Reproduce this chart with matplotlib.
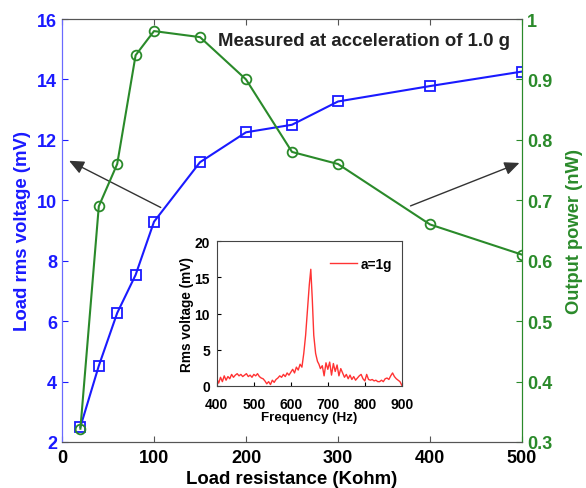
import matplotlib
matplotlib.use("Agg")
import matplotlib.pyplot as plt

plt.rcParams['font.family'] = ['Liberation Sans', 'DejaVu Sans']
plt.rcParams['font.weight'] = 'bold'

# Main data
resistance = [20, 40, 60, 80, 100, 150, 200, 250, 300, 400, 500]
voltage = [2.5, 4.52, 6.27, 7.53, 9.29, 11.26, 12.25, 12.5, 13.27, 13.78, 14.26]
power = [0.322, 0.69, 0.76, 0.94, 0.98, 0.97, 0.90, 0.78, 0.76, 0.66, 0.61]

# Inset spectrum
freq = [400, 405, 410, 415, 420, 425, 430, 435, 440, 445, 450, 455, 460, 465, 470,
        475, 480, 485, 490, 495, 500, 505, 510, 515, 520, 525, 530, 535, 540, 545,
        550, 555, 560, 565, 570, 575, 580, 585, 590, 595, 600, 605, 610, 615, 620,
        625, 630, 635, 640, 645, 650, 654, 658, 662, 667, 672, 676, 680, 685, 690,
        695, 700, 705, 710, 715, 720, 725, 730, 735, 740, 745, 750, 755, 760, 765,
        770, 775, 780, 785, 790, 795, 800, 805, 810, 815, 820, 825, 830, 835, 840,
        845, 850, 855, 860, 865, 870, 875, 880, 885, 890, 895, 900]
rms = [1.0, 0.4, 1.2, 0.6, 1.4, 0.8, 1.3, 1.0, 1.6, 1.2, 1.5, 1.7, 1.4, 1.6, 1.3,
       1.5, 1.7, 1.3, 1.5, 1.2, 1.6, 1.4, 1.7, 1.3, 1.1, 1.0, 0.7, 0.3, 0.6, 0.2,
       0.8, 0.5, 0.9, 1.1, 1.4, 1.2, 1.6, 1.3, 1.8, 1.5, 1.9, 2.3, 1.8, 2.6, 2.2,
       3.0, 2.6, 4.5, 7.0, 10.5, 14.0, 16.1, 12.0, 7.0, 4.5, 3.4, 3.0, 2.4, 2.8, 1.4,
       3.2, 2.3, 3.3, 1.5, 3.1, 2.0, 2.9, 1.4, 2.4, 1.8, 1.2, 1.6, 1.0, 1.5, 0.9,
       1.3, 0.8, 1.1, 1.4, 1.6, 1.0, 0.7, 1.6, 0.9, 0.8, 0.9, 0.7, 0.8, 0.6, 0.6,
       0.8, 0.6, 1.0, 1.1, 0.9, 1.4, 1.8, 1.3, 1.0, 0.8, 0.6, 0.1]

blue = '#1a1aff'
green = '#2a8a2a'

fig = plt.figure(figsize=(5.86, 4.89), dpi=100)
ax = fig.add_axes([0.1058, 0.0941, 0.785, 0.865])
ax2 = ax.twinx()

ax.plot(resistance, voltage, '-s', color=blue, lw=1.5, ms=7, mfc='none', mec=blue, mew=1.3)
ax2.plot(resistance, power, '-o', color=green, lw=1.5, ms=7, mfc='none', mec=green, mew=1.3)

ax.set_xlim(0, 500)
ax.set_ylim(2, 16)
ax2.set_ylim(0.3, 1.0)
ax.set_xticks([0, 100, 200, 300, 400, 500])
ax.set_yticks([2, 4, 6, 8, 10, 12, 14, 16])
ax2.set_yticks([0.3, 0.4, 0.5, 0.6, 0.7, 0.8, 0.9, 1.0])
ax2.set_yticklabels(['0.3', '0.4', '0.5', '0.6', '0.7', '0.8', '0.9', '1'])

ax.tick_params(axis='x', direction='in', top=True, labelsize=13, length=4, pad=5,
               colors='#555555', labelcolor='black')
ax.tick_params(axis='y', direction='in', labelsize=13, colors=blue, length=4)
ax2.tick_params(axis='y', direction='in', labelsize=13, colors=green, length=4)

for a in (ax, ax2):
    a.spines['top'].set_color('#555555')
    a.spines['bottom'].set_color('#555555')
    a.spines['left'].set_color('#6a6aff')
    a.spines['right'].set_color(green)

ax.set_xlabel('Load resistance (Kohm)', fontsize=13.4, fontweight='bold', labelpad=3)
ax.set_ylabel('Load rms voltage (mV)', fontsize=13.4, fontweight='bold', color=blue, labelpad=4)
ax2.set_ylabel('Output power (nW)', fontsize=13.2, fontweight='bold', color=green, labelpad=10)

ax.text(328, 15.3, 'Measured at acceleration of 1.0 g', fontsize=13.4, fontweight='bold',
        ha='center', va='center', color='#222222')

arrow_kw = dict(arrowstyle='-|>,head_length=0.9,head_width=0.4', color='#333333', lw=1.0)
ax.annotate('', xy=(5, 11.35), xytext=(110, 9.72), arrowprops=arrow_kw)
ax.annotate('', xy=(500, 11.27), xytext=(376, 9.78), arrowprops=arrow_kw, annotation_clip=False)

# Inset
ins = fig.add_axes([0.370, 0.2086, 0.3157, 0.2965])
ins.plot(freq, rms, color='#ff3333', lw=1.0, label='a=1g')
ins.set_xlim(400, 900)
ins.set_ylim(0, 20)
ins.set_xticks([400, 500, 600, 700, 800, 900])
ins.set_yticks([0, 5, 10, 15, 20])
ins.tick_params(direction='in', labelsize=10, length=3, pad=5)
ins.tick_params(axis='x', pad=8)
for s in ins.spines.values():
    s.set_color('#444444')
ins.set_xlabel('Frequency (Hz)', fontsize=9.6, fontweight='bold', labelpad=0)
ins.set_ylabel('Rms voltage (mV)', fontsize=9.8, fontweight='bold', labelpad=0)
leg = ins.legend(loc='center right', bbox_to_anchor=(1.0, 0.84), frameon=False,
                 fontsize=9.8, handlelength=2.0, handletextpad=0.3, borderaxespad=0.3)

fig.savefig('out.png', dpi=100)
